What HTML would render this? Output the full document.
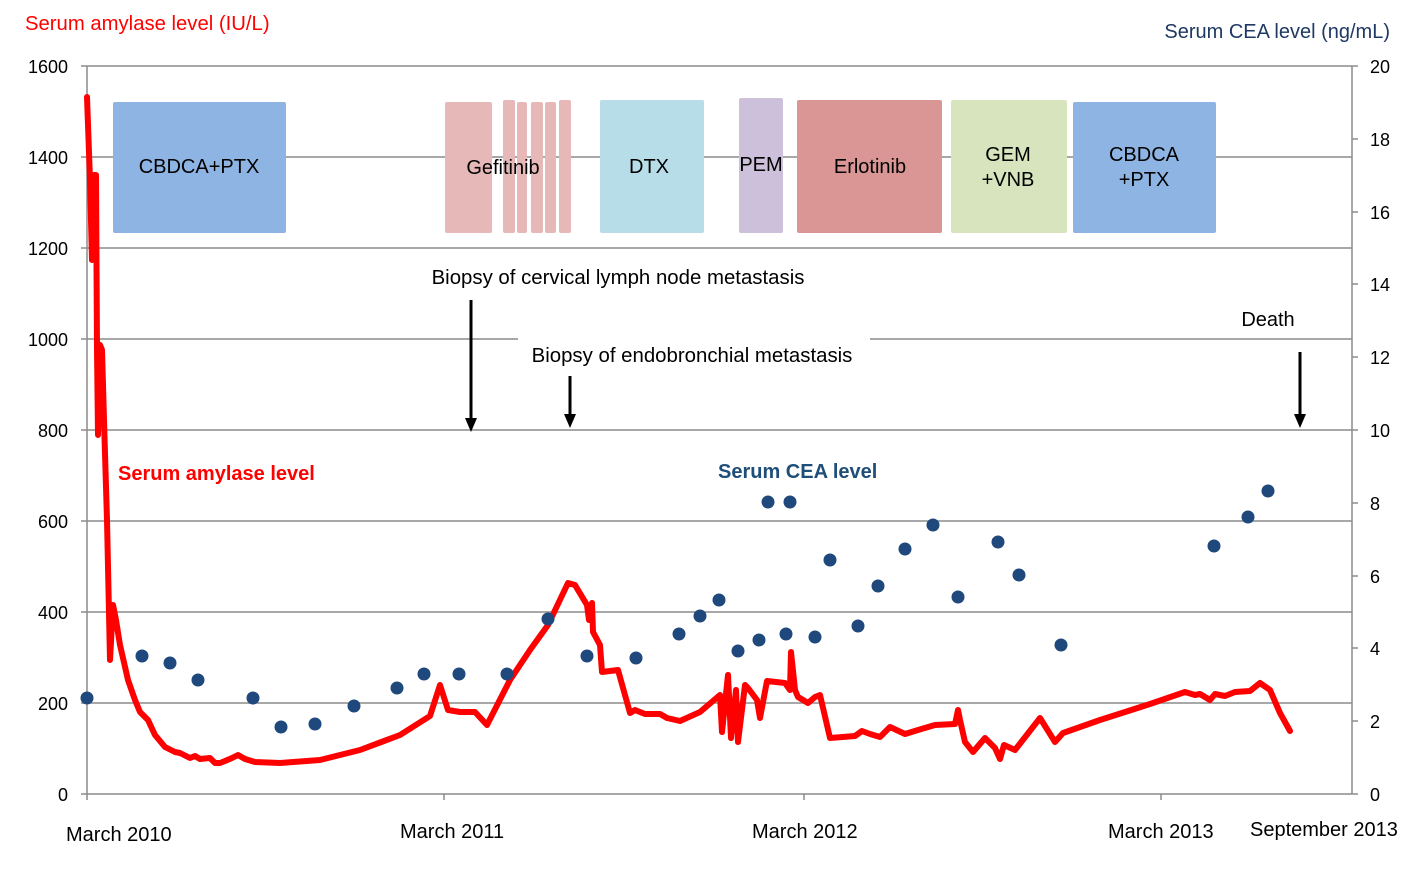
<!DOCTYPE html>
<html><head><meta charset="utf-8"><style>
html,body{margin:0;padding:0;background:#fff}
svg{display:block;font-family:"Liberation Sans",Arial,sans-serif}
</style></head><body>
<svg width="1417" height="869" viewBox="0 0 1417 869" xmlns="http://www.w3.org/2000/svg">
<g stroke="#8c8c8c" stroke-width="1.5">
<line x1="87" y1="66" x2="1352" y2="66"/>
<line x1="87" y1="157" x2="1352" y2="157"/>
<line x1="87" y1="248" x2="1352" y2="248"/>
<line x1="87" y1="339" x2="518" y2="339"/>
<line x1="870" y1="339" x2="1352" y2="339"/>
<line x1="87" y1="430" x2="1352" y2="430"/>
<line x1="87" y1="521" x2="1352" y2="521"/>
<line x1="87" y1="612" x2="1352" y2="612"/>
<line x1="87" y1="703" x2="1352" y2="703"/>
<line x1="87" y1="794" x2="1352" y2="794"/>
<line x1="87" y1="66" x2="87" y2="800"/>
<line x1="1352" y1="66" x2="1352" y2="794"/>
<line x1="444" y1="794" x2="444" y2="800"/>
<line x1="804" y1="794" x2="804" y2="800"/>
<line x1="1161" y1="794" x2="1161" y2="800"/>
<line x1="81" y1="66" x2="87" y2="66"/><line x1="81" y1="157" x2="87" y2="157"/><line x1="81" y1="248" x2="87" y2="248"/><line x1="81" y1="339" x2="87" y2="339"/><line x1="81" y1="430" x2="87" y2="430"/><line x1="81" y1="521" x2="87" y2="521"/><line x1="81" y1="612" x2="87" y2="612"/><line x1="81" y1="703" x2="87" y2="703"/><line x1="81" y1="794" x2="87" y2="794"/>
<line x1="1352" y1="66" x2="1358" y2="66"/><line x1="1352" y1="139" x2="1358" y2="139"/><line x1="1352" y1="212" x2="1358" y2="212"/><line x1="1352" y1="284" x2="1358" y2="284"/><line x1="1352" y1="357" x2="1358" y2="357"/><line x1="1352" y1="430" x2="1358" y2="430"/><line x1="1352" y1="503" x2="1358" y2="503"/><line x1="1352" y1="576" x2="1358" y2="576"/><line x1="1352" y1="648" x2="1358" y2="648"/><line x1="1352" y1="721" x2="1358" y2="721"/><line x1="1352" y1="794" x2="1358" y2="794"/>
</g>
<g font-size="18" fill="#000" text-anchor="end">
<text x="68" y="73">1600</text><text x="68" y="164">1400</text><text x="68" y="255">1200</text><text x="68" y="346">1000</text><text x="68" y="437">800</text><text x="68" y="528">600</text><text x="68" y="619">400</text><text x="68" y="710">200</text><text x="68" y="801">0</text>
</g>
<g font-size="18" fill="#000" text-anchor="start">
<text x="1370" y="73">20</text><text x="1370" y="146">18</text><text x="1370" y="219">16</text><text x="1370" y="291">14</text><text x="1370" y="364">12</text><text x="1370" y="437">10</text><text x="1370" y="510">8</text><text x="1370" y="583">6</text><text x="1370" y="655">4</text><text x="1370" y="728">2</text><text x="1370" y="801">0</text>
</g>
<text x="25" y="30" font-size="20.3" fill="#ff0000">Serum amylase level (IU/L)</text>
<text x="1390" y="38" font-size="20" fill="#1f3864" text-anchor="end">Serum CEA level (ng/mL)</text>
<g font-size="20" fill="#000">
<text x="66" y="841">March 2010</text>
<text x="400" y="838">March 2011</text>
<text x="752" y="838">March 2012</text>
<text x="1108" y="838">March 2013</text>
<text x="1250" y="836">September 2013</text>
</g>
<g>
<rect x="113" y="102" width="173" height="131" rx="2" fill="#8eb4e3"/>
<rect x="445" y="102" width="47" height="131" rx="2" fill="#e6b9b8"/>
<rect x="503" y="100" width="12" height="133" rx="2" fill="#e6b9b8"/>
<rect x="517" y="102" width="10" height="131" rx="2" fill="#e6b9b8"/>
<rect x="531" y="102" width="12" height="131" rx="2" fill="#e6b9b8"/>
<rect x="545" y="102" width="11" height="131" rx="2" fill="#e6b9b8"/>
<rect x="559" y="100" width="12" height="133" rx="2" fill="#e6b9b8"/>
<rect x="600" y="100" width="104" height="133" rx="2" fill="#b7dee8"/>
<rect x="739" y="98" width="44" height="135" rx="2" fill="#ccc0da"/>
<rect x="797" y="100" width="145" height="133" rx="2" fill="#d99694"/>
<rect x="951" y="100" width="116" height="133" rx="2" fill="#d7e4bd"/>
<rect x="1073" y="102" width="143" height="131" rx="2" fill="#8eb4e3"/>
</g>
<g font-size="20" fill="#000" text-anchor="middle">
<text x="199" y="173">CBDCA+PTX</text>
<text x="503" y="174">Gefitinib</text>
<text x="649" y="173">DTX</text>
<text x="761" y="171">PEM</text>
<text x="870" y="173">Erlotinib</text>
<text x="1008" y="161">GEM</text><text x="1008" y="186">+VNB</text>
<text x="1144" y="161">CBDCA</text><text x="1144" y="186">+PTX</text>
<text x="618" y="284" font-size="20.4">Biopsy of cervical lymph node metastasis</text>
<text x="692" y="362" font-size="20.4">Biopsy of endobronchial metastasis</text>
<text x="1268" y="326">Death</text>
</g>
<g stroke="#000" stroke-width="3">
<line x1="471" y1="300" x2="471" y2="422"/>
<line x1="570" y1="376" x2="570" y2="418"/>
<line x1="1300" y1="352" x2="1300" y2="418"/>
</g>
<g fill="#000">
<polygon points="465,418 477,418 471,432"/>
<polygon points="564,414 576,414 570,428"/>
<polygon points="1294,414 1306,414 1300,428"/>
</g>
<text x="118" y="480" font-size="20" font-weight="bold" fill="#ff0000">Serum amylase level</text>
<text x="718" y="478" font-size="20" font-weight="bold" fill="#1f4e79">Serum CEA level</text>
<polyline fill="none" stroke="#ff0000" stroke-width="6" stroke-linejoin="round" stroke-linecap="round" points="87,97 90,180 92,260 94,175 96,175 97,350 98,435 100,345 102,350 104,420 107,520 110,660 113,605 116,620 120,645 128,680 135,700 140,712 148,720 155,735 165,747 175,752 180,753 190,758 195,756 200,759 210,758 215,763 220,763 225,761 232,758 238,755 245,759 255,762 280,763 320,760 360,750 400,735 430,716 440,685 448,710 460,712 475,712 487,725 510,680 530,650 548,625 568,583 575,585 587,605 589,620 592,603 593,632 600,645 602,672 618,670 630,713 635,710 645,714 660,714 667,718 680,721 700,712 720,695 722,732 728,675 731,738 736,690 738,742 745,685 748,688 757,700 760,718 767,681 785,683 790,690 791,652 795,690 798,697 808,703 815,697 820,695 830,738 855,736 862,731 870,734 880,737 890,727 905,734 918,730 935,725 955,724 958,710 960,720 965,742 973,752 985,738 995,748 1000,759 1004,745 1015,750 1040,718 1055,742 1063,733 1100,720 1150,704 1185,692 1195,695 1200,694 1210,700 1215,694 1225,696 1235,692 1250,691 1260,683 1270,690 1280,713 1290,731"/>
<g fill="#1f497d">
<circle cx="87" cy="698" r="6.5"/><circle cx="142" cy="656" r="6.5"/><circle cx="170" cy="663" r="6.5"/><circle cx="198" cy="680" r="6.5"/><circle cx="253" cy="698" r="6.5"/><circle cx="281" cy="727" r="6.5"/><circle cx="315" cy="724" r="6.5"/><circle cx="354" cy="706" r="6.5"/><circle cx="397" cy="688" r="6.5"/><circle cx="424" cy="674" r="6.5"/><circle cx="459" cy="674" r="6.5"/><circle cx="507" cy="674" r="6.5"/><circle cx="548" cy="619" r="6.5"/><circle cx="587" cy="656" r="6.5"/><circle cx="636" cy="658" r="6.5"/><circle cx="679" cy="634" r="6.5"/><circle cx="700" cy="616" r="6.5"/><circle cx="719" cy="600" r="6.5"/><circle cx="738" cy="651" r="6.5"/><circle cx="759" cy="640" r="6.5"/><circle cx="768" cy="502" r="6.5"/><circle cx="786" cy="634" r="6.5"/><circle cx="790" cy="502" r="6.5"/><circle cx="815" cy="637" r="6.5"/><circle cx="830" cy="560" r="6.5"/><circle cx="858" cy="626" r="6.5"/><circle cx="878" cy="586" r="6.5"/><circle cx="905" cy="549" r="6.5"/><circle cx="933" cy="525" r="6.5"/><circle cx="958" cy="597" r="6.5"/><circle cx="998" cy="542" r="6.5"/><circle cx="1019" cy="575" r="6.5"/><circle cx="1061" cy="645" r="6.5"/><circle cx="1214" cy="546" r="6.5"/><circle cx="1248" cy="517" r="6.5"/><circle cx="1268" cy="491" r="6.5"/>
</g>
</svg>
</body></html>
